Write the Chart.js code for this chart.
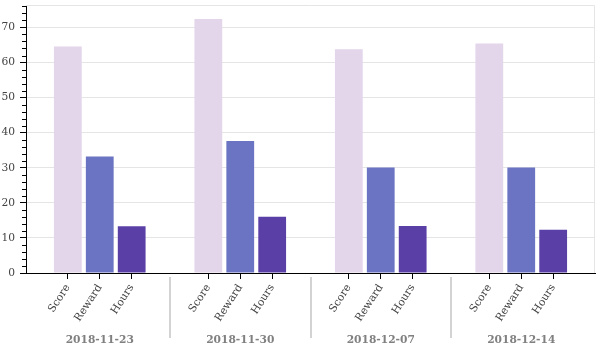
<!DOCTYPE html>
<html>
<head>
<meta charset="utf-8">
<script src="https://cdn.jsdelivr.net/npm/chart.js@4/dist/chart.umd.min.js"></script>
<style>
  body { margin: 0; background: #fff; }
  canvas { display: block; }
</style>
</head>
<body>
<canvas id="grafico" width="600" height="350"></canvas>
<script>
const semanas = ['2018-11-23', '2018-11-30', '2018-12-07', '2018-12-14'];
const metricas = ['Score', 'Reward', 'Hours'];
const score = [64.6, 72.4, 63.8, 65.4];
const reward = [33.2, 37.6, 30.1, 30.1];
const hours = [13.3, 16.0, 13.4, 12.3];
const cores = ['#e3d5ea', '#6b74c2', '#5a3fa6'];

// posicao de cada fator (grupo, metrica) no eixo x, como num range categorico aninhado
const GROUP_PAD = 1.4;
const RANGE_PAD = 0.1;
function posFator(g, s) {
  return g * (metricas.length + GROUP_PAD) + s + 0.5;
}
const largura = semanas.length * metricas.length + (semanas.length - 1) * GROUP_PAD;
const xMin = -largura * RANGE_PAD / 2;
const xMax = largura + largura * RANGE_PAD / 2;

const posicoes = [];
semanas.forEach((_, g) => metricas.forEach((_, s) => posicoes.push(posFator(g, s))));

const fonte = 'DejaVu Serif';
const tamFonte = 10.67;

const extras = {
  id: 'extras',
  afterDraw(chart) {
    const ctx = chart.ctx;
    const area = chart.chartArea;
    const x = chart.scales.x;
    const y = chart.scales.y;
    ctx.save();

    // contorno do grafico
    ctx.strokeStyle = '#e5e5e5';
    ctx.lineWidth = 1;
    ctx.beginPath();
    ctx.moveTo(area.left, area.top + 0.5);
    ctx.lineTo(area.right - 0.5, area.top + 0.5);
    ctx.lineTo(area.right - 0.5, area.bottom);
    ctx.stroke();

    // ticks menores no eixo y
    ctx.strokeStyle = '#000';
    ctx.beginPath();
    for (let v = 0; v <= y.max; v += 2) {
      if (v % 10 === 0) continue;
      const py = Math.round(y.getPixelForValue(v)) + 0.5;
      ctx.moveTo(area.left - 4, py);
      ctx.lineTo(area.left, py);
    }
    ctx.stroke();

    // separadores entre os grupos
    ctx.strokeStyle = '#d3d3d3';
    ctx.lineWidth = 2;
    for (let g = 0; g < semanas.length - 1; g++) {
      const meio = (posFator(g, metricas.length - 1) + posFator(g + 1, 0)) / 2;
      const px = Math.round(x.getPixelForValue(meio));
      ctx.beginPath();
      ctx.moveTo(px, area.bottom + 4);
      ctx.lineTo(px, area.bottom + 65);
      ctx.stroke();
    }

    // rotulos dos grupos
    ctx.fillStyle = '#808080';
    ctx.font = 'bold ' + tamFonte + 'px "' + fonte + '"';
    ctx.textAlign = 'center';
    ctx.textBaseline = 'middle';
    semanas.forEach((sem, g) => {
      ctx.fillText(sem, x.getPixelForValue(posFator(g, 1)), area.bottom + 67);
    });
    ctx.restore();
  }
};

const series = [score, reward, hours];

function semPadding(scale) {
  scale.paddingTop = 0;
  scale.paddingBottom = 0;
  scale.paddingLeft = 0;
  scale.paddingRight = 0;
}

new Chart(document.getElementById('grafico'), {
  type: 'bar',
  data: {
    datasets: series.map((vals, s) => ({
      label: metricas[s],
      data: vals.map((v, g) => ({ x: posFator(g, s), y: v })),
      backgroundColor: cores[s],
      grouped: false,
      categoryPercentage: 1,
      barPercentage: 0.87
    }))
  },
  options: {
    responsive: false,
    animation: false,
    layout: { padding: { top: 5, right: 5, left: 0, bottom: 0 } },
    plugins: {
      legend: { display: false },
      tooltip: { enabled: false }
    },
    scales: {
      x: {
        type: 'linear',
        offset: false,
        min: xMin,
        max: xMax,
        afterBuildTicks: scale => {
          scale.ticks = posicoes.map(v => ({ value: v }));
        },
        afterFit: scale => { scale.height = 77; semPadding(scale); },
        grid: {
          offset: false,
          drawOnChartArea: false,
          tickColor: '#000',
          tickLength: 6
        },
        border: { color: '#000', width: 1 },
        ticks: {
          autoSkip: false,
          minRotation: 57.3,
          maxRotation: 57.3,
          padding: 3,
          color: '#444',
          font: { family: fonte, size: tamFonte },
          callback: (val, i) => metricas[i % metricas.length]
        }
      },
      y: {
        min: 0,
        max: 76.4,
        afterFit: scale => { scale.width = 26; semPadding(scale); },
        grid: {
          color: '#e5e5e5',
          tickColor: '#000',
          tickLength: 6
        },
        border: { color: '#000', width: 1 },
        ticks: {
          stepSize: 10,
          includeBounds: false,
          padding: 5,
          color: '#444',
          font: { family: fonte, size: tamFonte }
        }
      }
    }
  },
  plugins: [extras]
});
</script>
</body>
</html>
